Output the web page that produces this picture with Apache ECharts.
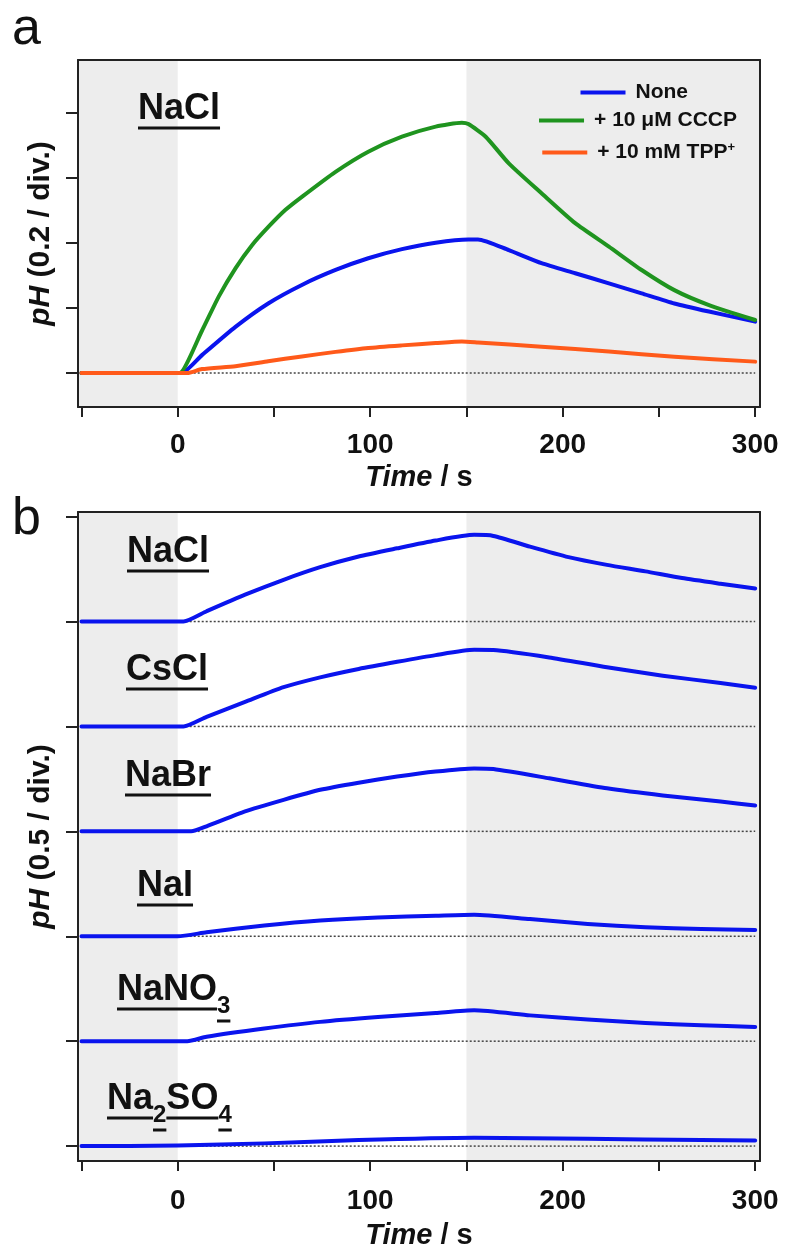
<!DOCTYPE html>
<html>
<head>
<meta charset="utf-8">
<script src="https://cdn.jsdelivr.net/npm/echarts@6/dist/echarts.min.js"></script>
<style>
html,body{margin:0;padding:0;background:#fff;}
#chart{width:785px;height:1255px;}
</style>
</head>
<body>
<div id="chart"></div>
<script>
// ---------- DATA ----------
// Panel a (pH change vs time, s)
const tNone = [-50,-30,-10,0,2,12.6,30,47,64.5,82,99,116.5,134,151,156,172,189,206.5,224,241,258,276,300];
const pHNone = [0,0,0,0,0,0.055,0.142,0.214,0.271,0.317,0.353,0.381,0.401,0.411,0.411,0.378,0.338,0.307,0.276,0.245,0.214,0.189,0.158];
const tCCCP = [-50,-30,-10,0,1,12.6,21.3,30,38.6,47.2,56,64.5,82,99,116.5,134,147.6,151,160,172,189,206.5,224,241,258,276,300];
const pHCCCP = [0,0,0,0,0,0.13,0.235,0.322,0.393,0.450,0.502,0.542,0.619,0.681,0.727,0.758,0.770,0.766,0.727,0.645,0.553,0.461,0.389,0.317,0.255,0.209,0.163];
const tTPP = [-50,-30,-10,0,5,12.6,30,47,64.5,82,99,116.5,134,147.6,156,189,224,258,300];
const pHTPP = [0,0,0,0,0,0.012,0.021,0.036,0.051,0.065,0.077,0.085,0.092,0.097,0.094,0.081,0.066,0.050,0.035];
const seriesNamesA = ['None', '+ 10 \u03bcM CCCP', '+ 10 mM TPP+'];

// Panel b (pH change vs time, s), traces offset by one division
const tNaCl = [-50,-25,0,3,15,35,55,74,94,114,134,154,164,183,203,223,243,262,282,300];
const pHNaCl = [0,0,0,0,0.049,0.128,0.199,0.259,0.310,0.349,0.386,0.413,0.408,0.357,0.307,0.270,0.239,0.207,0.180,0.157];
const tCsCl = [-50,-25,0,3,15,35,55,74,94,114,134,154,164,193,223,252,282,300];
const pHCsCl = [0,0,0,0,0.046,0.117,0.187,0.234,0.274,0.308,0.340,0.365,0.364,0.329,0.282,0.242,0.207,0.184];
const tNaBr = [-50,-25,0,7,15,35,55,74,94,114,134,154,164,193,223,252,282,300];
const pHNaBr = [0,0,0,0,0.024,0.095,0.150,0.198,0.232,0.261,0.285,0.300,0.297,0.253,0.205,0.171,0.142,0.123];
const tNaI = [-50,-25,0,15,45,74,104,134,154,183,213,243,272,300];
const pHNaI = [0,0,0,0.019,0.051,0.075,0.090,0.098,0.103,0.082,0.059,0.043,0.035,0.030];
const tNaNO3 = [-50,-25,0,5,15,45,74,104,134,154,183,213,243,272,300];
const pHNaNO3 = [0,0,0,0,0.021,0.060,0.092,0.115,0.134,0.147,0.123,0.103,0.087,0.076,0.068];
const tNa2SO4 = [-50,-25,0,45,94,154,213,272,300];
const pHNa2SO4 = [0,0,0.003,0.013,0.029,0.040,0.035,0.029,0.027];
const saltNames = ['NaCl','CsCl','NaBr','NaI','NaNO3','Na2SO4'];
const divB = 0.5; // pH per division (trace offset)

// Axis ticks / labels
const tickTimes = [-50,0,50,100,150,200,250,300];
const labelTimes = [0,100,200,300];
const tickPHa = [0,0.2,0.4,0.6,0.8];
const tickPHb = [0,0.5,1.0,1.5,2.0,2.5,3.0];
const X_MIN = -51.8, X_MAX = 302.5;
const YA_MIN = -0.1046, YA_MAX = 0.963;
const YB_MIN = -0.071, YB_MAX = 3.022;

// ---------- STYLE ----------
const FF = '"Liberation Sans", Arial, Helvetica, sans-serif';
const INK = '#111';
const AX = '#222';
const BLUE = '#0a14ee', GREEN = '#1f941f', ORANGE = '#ff5a1a';
const SHADE = '#ededed';

const zip = (t, v, off) => t.map((x, i) => [x, v[i] + (off || 0)]);

const chart = echarts.init(document.getElementById('chart'), null, {renderer: 'canvas'});

function xAxisMain(grid, margin, gap) {
  return {
    gridIndex: grid, type: 'value', min: X_MIN, max: X_MAX, position: 'bottom',
    axisLine: {show: true, onZero: false, lineStyle: {color: AX, width: 2}},
    axisTick: {show: true, inside: false, length: 10, customValues: tickTimes, lineStyle: {color: AX, width: 2}},
    axisLabel: {show: true, customValues: labelTimes, margin: margin, fontSize: 28, fontWeight: 'bold', color: INK, fontFamily: FF},
    splitLine: {show: false},
    name: '{i|Time} / s', nameLocation: 'middle', nameGap: gap,
    nameTextStyle: {fontSize: 29, fontWeight: 'bold', color: INK, fontFamily: FF,
      rich: {i: {fontSize: 29, fontWeight: 'bold', fontStyle: 'italic', color: INK, fontFamily: FF}}}
  };
}
function borderX(grid) {
  return {gridIndex: grid, type: 'value', min: X_MIN, max: X_MAX, position: 'top',
    axisLine: {show: true, onZero: false, lineStyle: {color: AX, width: 2}},
    axisTick: {show: false}, axisLabel: {show: false}, splitLine: {show: false}};
}
function yAxisMain(grid, min, max, ticks, name) {
  return {
    gridIndex: grid, type: 'value', min: min, max: max, position: 'left',
    axisLine: {show: true, onZero: false, lineStyle: {color: AX, width: 2}},
    axisTick: {show: true, inside: false, length: 12, customValues: ticks, lineStyle: {color: AX, width: 2}},
    axisLabel: {show: false}, splitLine: {show: false},
    name: name, nameLocation: 'middle', nameGap: 22,
    nameTextStyle: {fontSize: 30, fontWeight: 'bold', color: INK, fontFamily: FF,
      rich: {i: {fontSize: 30, fontWeight: 'bold', fontStyle: 'italic', color: INK, fontFamily: FF}}}
  };
}
function borderY(grid, min, max) {
  return {gridIndex: grid, type: 'value', min: min, max: max, position: 'right',
    axisLine: {show: true, onZero: false, lineStyle: {color: AX, width: 2}},
    axisTick: {show: false}, axisLabel: {show: false}, splitLine: {show: false}};
}

function baseSeries(xi, yi, off, withShade) {
  const s = {
    type: 'line', xAxisIndex: xi, yAxisIndex: yi, z: 1, silent: true,
    data: [[0, off], [300, off]], showSymbol: false, symbol: 'none',
    lineStyle: {color: '#444', width: 1.5, type: [2, 2]}
  };
  if (withShade) {
    s.markArea = {silent: true, z: 0, itemStyle: {color: SHADE},
      data: [[{xAxis: X_MIN}, {xAxis: 0}], [{xAxis: 150}, {xAxis: X_MAX}]]};
  }
  return s;
}
function curve(name, xi, yi, data, color) {
  return {name: name, type: 'line', xAxisIndex: xi, yAxisIndex: yi, z: 3,
    data: data, showSymbol: false, symbol: 'none', smooth: 0.2,
    lineStyle: {color: color, width: 4, join: 'round', cap: 'round'}, itemStyle: {color: color}};
}

const series = [];
series.push(baseSeries(0, 0, 0, true));
series.push(curve(seriesNamesA[0], 0, 0, zip(tNone, pHNone), BLUE));
series.push(curve(seriesNamesA[1], 0, 0, zip(tCCCP, pHCCCP), GREEN));
series.push(curve(seriesNamesA[2], 0, 0, zip(tTPP, pHTPP), ORANGE));

const tB = [tNaCl, tCsCl, tNaBr, tNaI, tNaNO3, tNa2SO4];
const vB = [pHNaCl, pHCsCl, pHNaBr, pHNaI, pHNaNO3, pHNa2SO4];
saltNames.forEach((nm, i) => {
  const off = (saltNames.length - 1 - i) * divB;
  series.push(baseSeries(1, 1, off, i === 0));
});
saltNames.forEach((nm, i) => {
  const off = (saltNames.length - 1 - i) * divB;
  series.push(curve(nm, 1, 1, zip(tB[i], vB[i], off), BLUE));
});

const legendCommon = {
  orient: 'vertical', icon: 'rect', itemWidth: 45, itemHeight: 4, padding: 0, selectedMode: false,
  textStyle: {fontSize: 21, fontWeight: 'bold', color: INK, fontFamily: FF, padding: [0, 0, 0, 5],
    rich: {sup: {fontSize: 13, fontWeight: 'bold', color: INK, fontFamily: FF, padding: [0, 0, 10, 0]}}},
  formatter: n => n === seriesNamesA[2] ? '+ 10 mM TPP{sup|+}' : n
};

// ---------- LABELS (graphic) ----------
const mctx = document.createElement('canvas').getContext('2d');
function measure(txt, font) { mctx.font = font; return mctx.measureText(txt).width; }
function underlined(parts, x, baseline, size) {
  const els = [];
  let cx = x;
  parts.forEach(p => {
    const fs = p.sub ? Math.round(size * 0.66) : size;
    const bl = p.sub ? baseline + Math.round(size * 0.32) : baseline;
    const font = 'bold ' + fs + 'px ' + FF;
    const w = measure(p.t, font);
    els.push({type: 'text', z: 100, style: {text: p.t, x: cx, y: bl - 0.35 * fs, font: font, fill: INK,
      align: 'left', verticalAlign: 'middle', textAlign: 'left', textVerticalAlign: 'middle'}});
    els.push({type: 'rect', z: 100, shape: {x: cx, y: bl + 4.5, width: w, height: 3}, style: {fill: INK}});
    cx += w;
  });
  return els;
}
function plain(txt, x, baseline, size) {
  const font = size + 'px ' + FF;
  return {type: 'text', z: 100, style: {text: txt, x: x, y: baseline - 0.35 * size, font: font, fill: INK,
    align: 'left', verticalAlign: 'middle', textAlign: 'left', textVerticalAlign: 'middle'}};
}
const LS = 36;
const labelParts = {
  NaCl: [{t: 'NaCl'}],
  CsCl: [{t: 'CsCl'}],
  NaBr: [{t: 'NaBr'}],
  NaI: [{t: 'NaI'}],
  NaNO3: [{t: 'NaNO'}, {t: '3', sub: true}],
  Na2SO4: [{t: 'Na'}, {t: '2', sub: true}, {t: 'SO'}, {t: '4', sub: true}]
};
const labelPosB = [[127, 565], [126, 683], [125, 789], [137, 899], [117, 1003], [107, 1112]];
let graphics = [];
graphics.push(plain('a', 12, 48, 52));
graphics.push(plain('b', 12, 538, 52));
graphics = graphics.concat(underlined(labelParts.NaCl, 138, 122, LS));
saltNames.forEach((nm, i) => {
  graphics = graphics.concat(underlined(labelParts[nm], labelPosB[i][0], labelPosB[i][1], LS));
});

const option = {
  animation: false,
  backgroundColor: '#fff',
  grid: [
    {left: 78, top: 60, width: 682, height: 347, show: false},
    {left: 78, top: 512, width: 682, height: 653, show: false}
  ],
  xAxis: [xAxisMain(0, 24, 56), xAxisMain(1, 26, 60), borderX(0), borderX(1)],
  yAxis: [
    yAxisMain(0, YA_MIN, YA_MAX, tickPHa, '{i|pH} (0.2 / div.)'),
    yAxisMain(1, YB_MIN, YB_MAX, tickPHb, '{i|pH} (0.5 / div.)'),
    borderY(0, YA_MIN, YA_MAX), borderY(1, YB_MIN, YB_MAX)
  ],
  legend: [
    Object.assign({}, legendCommon, {data: [seriesNamesA[0]], right: 97, top: 82}),
    Object.assign({}, legendCommon, {data: [seriesNamesA[1]], right: 48, top: 110}),
    Object.assign({}, legendCommon, {data: [seriesNamesA[2]], right: 50, top: 141})
  ],
  graphic: graphics,
  series: series
};
chart.setOption(option);
</script>
</body>
</html>
